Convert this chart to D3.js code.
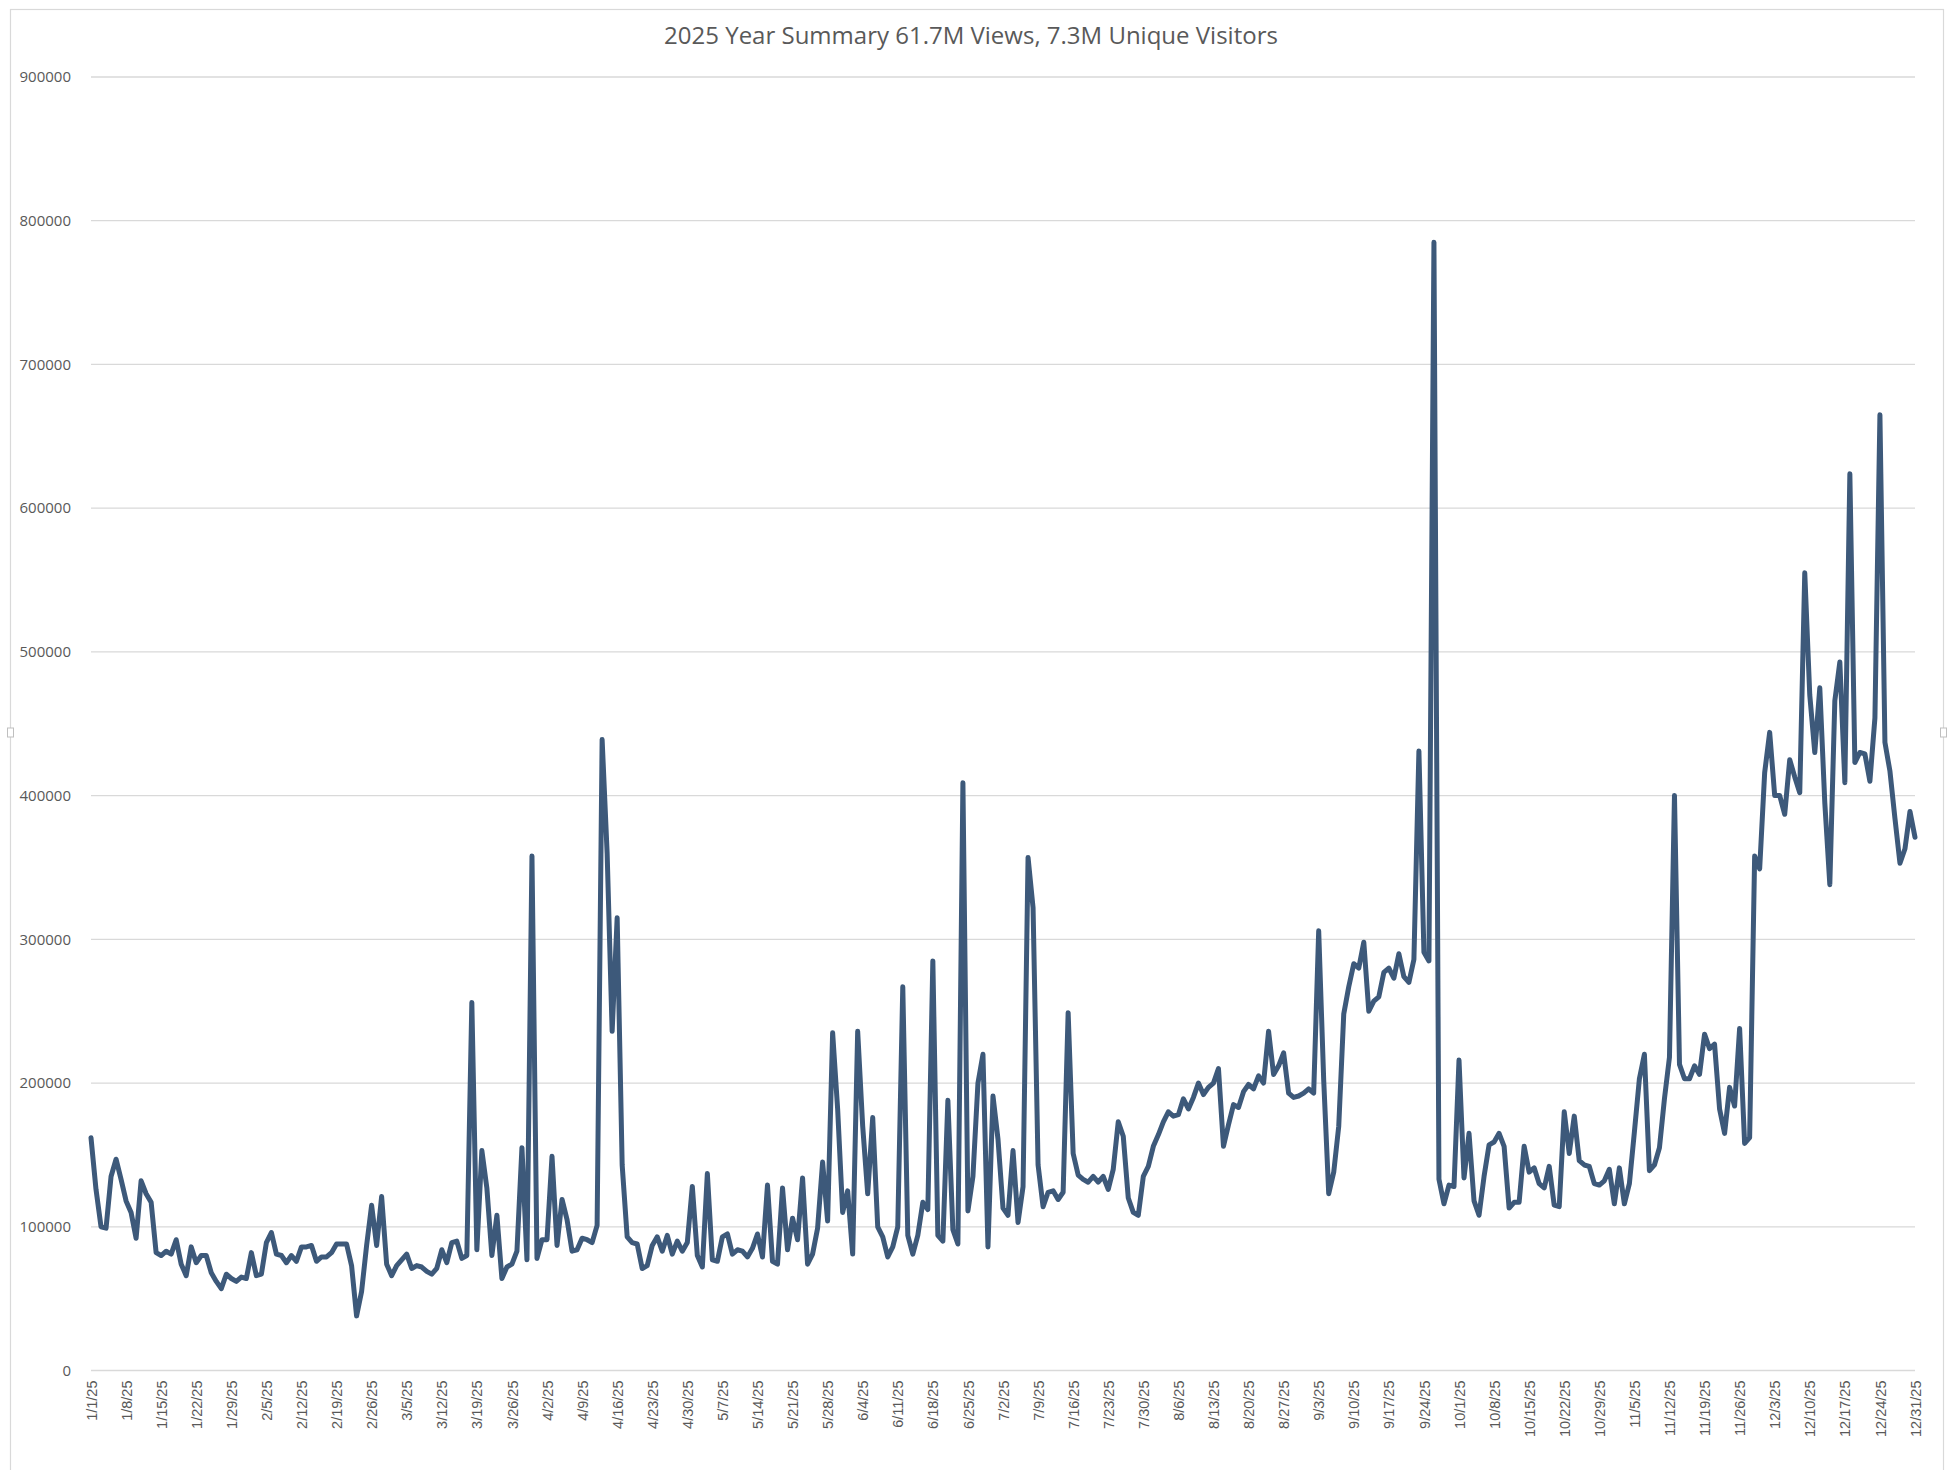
<!DOCTYPE html>
<html>
<head>
<meta charset="utf-8">
<script src="https://cdn.jsdelivr.net/npm/d3@7"></script>
<style>
  body { margin: 0; background: #fff; }
  svg { display: block; font-family: "Open Sans", "Liberation Sans", sans-serif; }
</style>
</head>
<body>
<div id="chart"></div>
<script>
// Chart data: daily views for 2025 (thousands)
const title = "2025 Year Summary 61.7M Views, 7.3M Unique Visitors";
const startDate = "2025-01-01";
const yTicks = [0, 100000, 200000, 300000, 400000, 500000, 600000, 700000, 800000, 900000];

const viewsK = [
  162, 126, 100, 99, 135, 147, 133, 118, 110, 92, 132, 123, 117, 82, 80, 83, 81, 91, 74, 66,
  86, 75, 80, 80, 68, 62, 57, 67, 64, 62, 65, 64, 82, 66, 67, 89, 96, 81, 80, 75,
  80, 76, 86, 86, 87, 76, 79, 79, 82, 88, 88, 88, 73, 38, 55, 87, 115, 87, 121, 74,
  66, 73, 77, 81, 71, 73, 72, 69, 67, 71, 84, 75, 89, 90, 78, 80, 256, 84, 153, 127,
  80, 108, 64, 72, 74, 83, 155, 77, 358, 78, 91, 91, 149, 87, 119, 105, 83, 84, 92, 91,
  89, 101, 439, 360, 236, 315, 143, 93, 89, 88, 71, 73, 87, 93, 83, 94, 81, 90, 83, 89,
  128, 80, 72, 137, 77, 76, 93, 95, 81, 84, 83, 79, 85, 95, 79, 129, 76, 74, 127, 84,
  106, 91, 134, 74, 81, 99, 145, 104, 235, 182, 110, 125, 81, 236, 170, 123, 176, 100, 93, 79,
  86, 100, 267, 94, 81, 94, 117, 112, 285, 94, 90, 188, 98, 88, 409, 111, 135, 200, 220, 86,
  191, 161, 113, 108, 153, 103, 128, 357, 322, 143, 114, 124, 125, 119, 124, 249, 151, 136, 133, 131,
  135, 131, 135, 126, 140, 173, 163, 120, 110, 108, 135, 142, 156, 164, 173, 180, 177, 178, 189, 182,
  190, 200, 192, 197, 200, 210, 156, 171, 185, 183, 194, 199, 196, 205, 200, 236, 206, 212, 221, 193,
  190, 191, 193, 196, 193, 306, 202, 123, 138, 170, 248, 267, 283, 280, 298, 250, 257, 260, 277, 280,
  273, 290, 274, 270, 286, 431, 291, 285, 785, 133, 116, 129, 128, 216, 134, 165, 118, 108, 135, 157,
  159, 165, 156, 113, 117, 117, 156, 138, 141, 130, 127, 142, 115, 114, 180, 151, 177, 146, 143, 142,
  130, 129, 132, 140, 116, 141, 116, 130, 166, 203, 220, 139, 143, 155, 189, 218, 400, 213, 203, 203,
  212, 206, 234, 224, 227, 182, 165, 197, 184, 238, 158, 162, 358, 349, 416, 444, 400, 400, 387, 425,
  413, 402, 555, 470, 430, 475, 395, 338, 466, 493, 409, 624, 423, 430, 429, 410, 454, 665, 437, 417,
  384, 353, 363, 389, 371
];

const width = 1950;
const height = 1470;
const plot = { left: 91, right: 1915, top: 77, bottom: 1370.5 };

const start = new Date(startDate + "T00:00:00Z");
const data = viewsK.map((v, i) => ({
  date: d3.utcDay.offset(start, i),
  value: v * 1000,
}));

const svg = d3
  .select("#chart")
  .append("svg")
  .attr("width", width)
  .attr("height", height);

svg.append("rect").attr("width", width).attr("height", height).attr("fill", "#fff");

// Chart area border with side handles
svg
  .append("rect")
  .attr("x", 10.5)
  .attr("y", 9.5)
  .attr("width", 1933)
  .attr("height", 1470)
  .attr("fill", "none")
  .attr("stroke", "#d9d9d9")
  .attr("stroke-width", 1.2);

[10.5, 1943.5].forEach((x) => {
  svg
    .append("rect")
    .attr("x", x - 3)
    .attr("y", 728)
    .attr("width", 6)
    .attr("height", 9)
    .attr("fill", "#fff")
    .attr("stroke", "#bfbfbf")
    .attr("stroke-width", 1);
});

const xScale = d3
  .scaleUtc()
  .domain(d3.extent(data, (d) => d.date))
  .range([plot.left, plot.right]);

const yScale = d3
  .scaleLinear()
  .domain([0, 900000])
  .range([plot.bottom, plot.top]);

// Gridlines
svg
  .append("g")
  .attr("class", "gridlines")
  .selectAll("line")
  .data(yTicks)
  .join("line")
  .attr("x1", plot.left)
  .attr("x2", plot.right)
  .attr("y1", (d) => yScale(d))
  .attr("y2", (d) => yScale(d))
  .attr("stroke", "#d9d9d9")
  .attr("stroke-width", 1.3);

// Y axis labels
const yAxis = d3
  .axisLeft(yScale)
  .tickValues(yTicks)
  .tickSize(0)
  .tickPadding(20)
  .tickFormat((d) => String(d));

svg
  .append("g")
  .attr("transform", `translate(${plot.left}, 0)`)
  .call(yAxis)
  .call((g) => g.select(".domain").remove())
  .selectAll("text")
  .attr("font-size", 15)
  .attr("fill", "#595959")
  .attr("font-family", "Open Sans, sans-serif");

// X axis labels, one per week, rotated
const weekTicks = d3.utcDay.range(start, d3.utcDay.offset(start, viewsK.length), 7);
const xAxis = d3
  .axisBottom(xScale)
  .tickValues(weekTicks)
  .tickSize(0)
  .tickFormat(d3.utcFormat("%-m/%-d/%y"));

svg
  .append("g")
  .attr("transform", `translate(0, ${plot.bottom})`)
  .call(xAxis)
  .call((g) => g.select(".domain").remove())
  .selectAll("text")
  .attr("font-size", 14.5)
  .attr("fill", "#595959")
  .attr("text-anchor", "end")
  .attr("transform", "rotate(-90)")
  .attr("x", -10)
  .attr("y", 0)
  .attr("dy", "0.35em");

// The line
const line = d3
  .line()
  .x((d) => xScale(d.date))
  .y((d) => yScale(d.value));

svg
  .append("path")
  .datum(data)
  .attr("fill", "none")
  .attr("stroke", "#3d597a")
  .attr("stroke-width", 5)
  .attr("stroke-linejoin", "round")
  .attr("stroke-linecap", "round")
  .attr("d", line);

// Title
svg
  .append("text")
  .attr("x", 971)
  .attr("y", 44)
  .attr("text-anchor", "middle")
  .attr("font-size", 24)
  .attr("fill", "#595959")
  .text(title);
</script>
</body>
</html>
